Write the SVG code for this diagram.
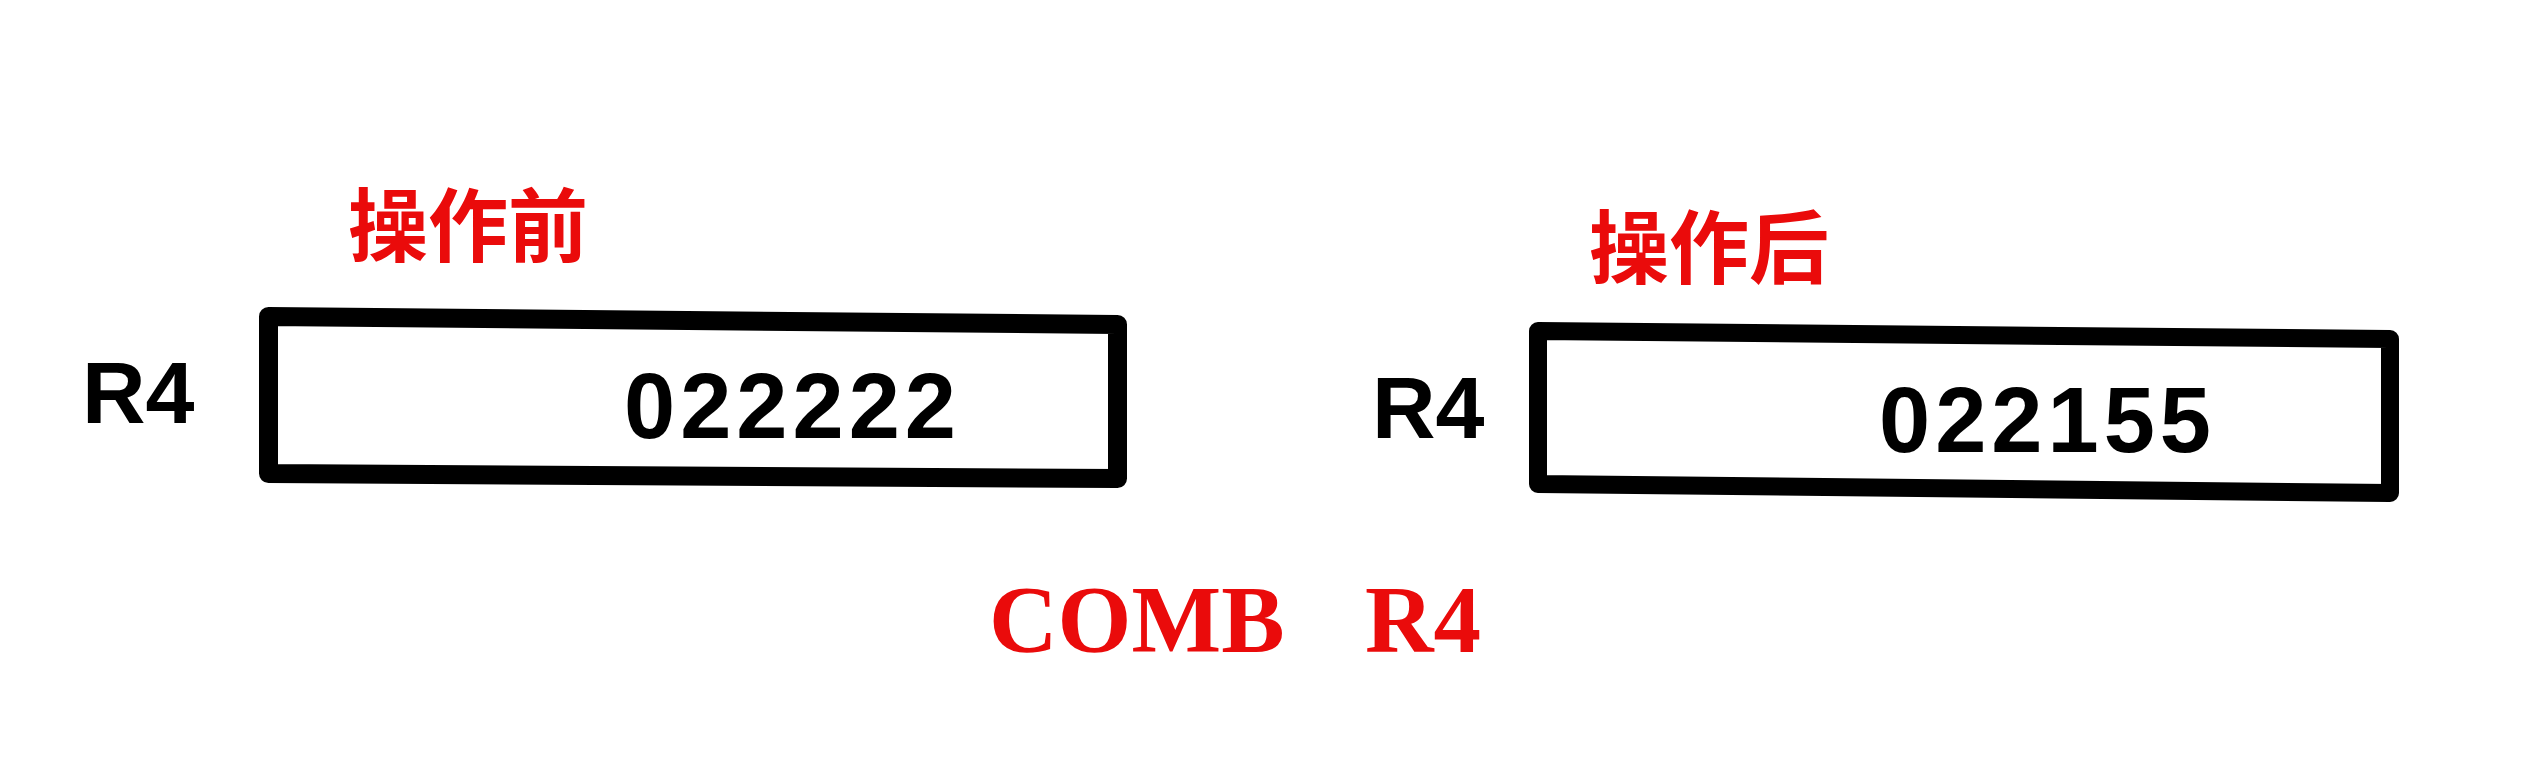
<svg xmlns="http://www.w3.org/2000/svg" width="2540" height="774" viewBox="0 0 2540 774">
<style>
.title{font-family:"Noto Sans CJK SC","Noto Sans",sans-serif;font-weight:700;font-size:80px;fill:#ea0b0b}
.reg{font-family:"Liberation Sans",Arial,sans-serif;font-weight:700;font-size:88px;fill:#000}
.val{font-family:"Liberation Sans",Arial,sans-serif;font-weight:700;font-size:92px;fill:#000;letter-spacing:5px}
.box{fill:#fff;stroke:#000;stroke-linejoin:round}
.cmd{font-family:"Liberation Serif","Times New Roman",serif;font-weight:700;font-size:95px;fill:#ea0b0b}
</style>
<rect width="2540" height="774" fill="#fff"/>
<g id="before">
<text class="title" x="348" y="255">操作前</text>
<text class="reg" x="82" y="423">R4</text>
<path class="box" stroke-width="19" d="M268.5 316.5 L1117.5 324.5 L1117.5 478.5 L268.5 473.5 Z"/>
<text class="val" x="624" y="438">022222</text>
</g>
<g id="after">
<text class="title" x="1589" y="277">操作后</text>
<text class="reg" x="1372" y="438">R4</text>
<path class="box" stroke-width="18" d="M1538 331 L2390 339 L2390 493 L1538 484 Z"/>
<text class="val" x="1879" y="452">022155</text>
</g>
<g id="command">
<text class="cmd" x="989" y="652">COMB<tspan x="1365">R4</tspan></text>
</g>
</svg>
